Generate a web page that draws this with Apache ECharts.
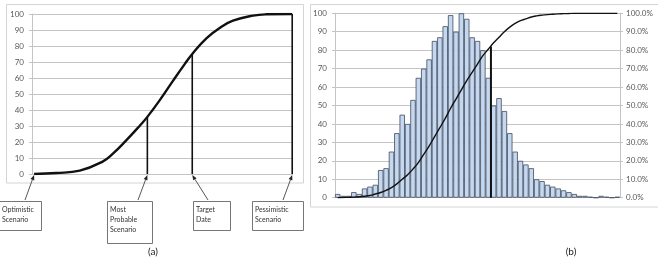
<!DOCTYPE html>
<html><head><meta charset="utf-8">
<script src="https://cdn.jsdelivr.net/npm/echarts@6/dist/echarts.min.js"></script>
<style>html,body{margin:0;padding:0;background:#fff}#c{width:658px;height:260px}</style>
</head><body><div id="c"></div>
<script>
// ---- Chart (a): cumulative S-curve ----
const aCurveX = [0.8, 9.3, 18.3, 27.2, 31, 36.1, 41.3, 44.2, 48.9, 54, 58.5, 61.4, 66.8, 71.9, 77, 84.7, 89.8, 99.7];
const aCurveY = [0, 0.6, 2.1, 7.9, 12.7, 21, 30.2, 35.7, 46, 58.2, 68.7, 75, 84.8, 91.3, 95.8, 99, 99.8, 100];
const aScenarioNames = [["Optimistic","Scenario"],["Most","Probable","Scenario"],["Target","Date"],["Pessimistic","Scenario"]];
const aScenarioX = [0.8, 44.2, 61.4, 99.7];
const aScenarioTop = [0, 35.7, 75, 100];

// ---- Chart (b): histogram + cumulative % ----
const bCategories = Array.from({length:53}, (_, i) => String(i + 1));
const bCounts = [2,1,1,3,2,5,6,7,15,16,25,35,45,40,53,65,70,75,85,87,93,99,90,100,97,87,85,80,65,
                 50,54,47,35,25,20,18,16,10,9,7,6,5,4,3,2,1,1,0.5,0,1,0.5,0,0.5];
const bCumPct = [0,0.1,0.2,0.3,0.5,0.8,1.2,2,2.8,4,5.5,7.5,10,12.5,15.5,19,23.5,28,33,38,43,48.5,53.5,58.5,63.5,68,72.5,77,80.5,
                 84,87,90,92.5,94.5,96,97,98,98.6,99,99.3,99.5,99.7,99.8,99.9,100,100,100,100,100,100,100,100,100];
const bMarkerIndex = 29;   // boundary after the 29th bin
const bMarkerTop = 82;

const FONT = 'Lato';
const gridCol = '#c4c4c4';
const labelCol = '#595959';

const chart = echarts.init(document.getElementById('c'), null, {renderer:'canvas'});

const aLines = aScenarioX.slice(1).map((x, i) => ({
  type:'line', xAxisIndex:0, yAxisIndex:0, symbol:'none', silent:true,
  data:[[x,0],[x,aScenarioTop[i+1]]], lineStyle:{color:'#111', width:1.6}
}));

chart.setOption({
  animation:false,
  textStyle:{fontFamily:FONT},
  grid:[
    {left:32, top:14, width:261, height:160},
    {left:335, top:13.3, width:285, height:184.4}
  ],
  xAxis:[
    {type:'value', gridIndex:0, min:0, max:100, show:false},
    {type:'category', gridIndex:1, data:bCategories, show:false, boundaryGap:true},
    {type:'value', gridIndex:1, min:0, max:53, show:false}
  ],
  yAxis:[
    {type:'value', gridIndex:0, min:0, max:100, interval:10,
     axisLine:{show:true, lineStyle:{color:gridCol}}, axisTick:{show:true, length:3, lineStyle:{color:gridCol}},
     splitLine:{lineStyle:{color:gridCol, width:1.2}},
     axisLabel:{color:labelCol, fontSize:8, margin:8, fontFamily:FONT}},
    {type:'value', gridIndex:1, min:0, max:100, interval:10,
     axisLine:{show:true, lineStyle:{color:gridCol}}, axisTick:{show:true, length:3, lineStyle:{color:gridCol}},
     splitLine:{lineStyle:{color:gridCol, width:1}},
     axisLabel:{color:labelCol, fontSize:8, margin:8, fontFamily:FONT}},
    {type:'value', gridIndex:1, min:0, max:100, interval:10, position:'right',
     axisLine:{show:true, lineStyle:{color:gridCol}}, axisTick:{show:true, length:3, lineStyle:{color:gridCol}},
     splitLine:{show:false},
     axisLabel:{color:labelCol, fontSize:8, margin:6, fontFamily:FONT, formatter:v => v.toFixed(1) + '%'}}
  ],
  series:[
    {type:'line', xAxisIndex:0, yAxisIndex:0, symbol:'none', smooth:0.45, silent:true,
     data:aCurveX.map((x,i)=>[x,aCurveY[i]]), lineStyle:{color:'#111', width:2.4}},
    ...aLines,
    {type:'bar', xAxisIndex:1, yAxisIndex:1, data:bCounts, barCategoryGap:'0%', silent:true,
     itemStyle:{color:'#c6d8ef', borderColor:'#3f4b5e', borderWidth:0.8}},
    {type:'line', xAxisIndex:2, yAxisIndex:2, symbol:'none', smooth:0.4, silent:true,
     data:bCumPct.map((v,i)=>[i+0.5, v]), lineStyle:{color:'#111', width:1.4}},
    {type:'line', xAxisIndex:2, yAxisIndex:1, symbol:'none', silent:true,
     data:[[bMarkerIndex,0],[bMarkerIndex,bMarkerTop]], lineStyle:{color:'#111', width:2}}
  ]
});

// ---- annotations (boxes, arrows, panel frames, captions) ----
const g = [];
g.push({type:'rect', shape:{x:6.5, y:4.5, width:297, height:178.5}, style:{fill:null, stroke:'#d4d4d4', lineWidth:1}, z:0});
g.push({type:'rect', shape:{x:310.5, y:4.5, width:360, height:202.5}, style:{fill:null, stroke:'#d4d4d4', lineWidth:1}, z:0});

const tails = [[25,200],[138,200],[208,200],[283,200]];
const boxes = [[-1,201,42,29],[107,201,45,42],[193,201,37,29],[252,201,51,29]];
aScenarioX.forEach((x, i) => {
  const tip = chart.convertToPixel({gridIndex:0}, [x, 0]);
  tip[1] += 1;
  const t = tails[i];
  const dx = tip[0]-t[0], dy = tip[1]-t[1], L = Math.hypot(dx,dy);
  const ux = dx/L, uy = dy/L, nx = -uy, ny = ux;
  const hl = 5, hw = 2;
  g.push({type:'line', shape:{x1:t[0], y1:t[1], x2:tip[0]-ux*hl, y2:tip[1]-uy*hl}, style:{stroke:'#444', lineWidth:0.9}, z:10});
  g.push({type:'polygon', shape:{points:[[tip[0],tip[1]],[tip[0]-ux*hl+nx*hw, tip[1]-uy*hl+ny*hw],[tip[0]-ux*hl-nx*hw, tip[1]-uy*hl-ny*hw]]}, style:{fill:'#222'}, z:10});
  const b = boxes[i];
  g.push({type:'rect', shape:{x:b[0]+0.5, y:b[1]+0.5, width:b[2], height:b[3]}, style:{fill:'#fff', stroke:'#666', lineWidth:0.9}, z:10});
  g.push({type:'text', x:b[0]+3, y:b[1]+4, style:{text:aScenarioNames[i].join('\n'), fill:'#333', font:'7px ' + FONT, lineHeight:10}, z:11});
});
g.push({type:'text', x:153, y:252, style:{text:'(a)', fill:'#222', font:'10px ' + FONT, align:'center', verticalAlign:'middle'}});
g.push({type:'text', x:571, y:252, style:{text:'(b)', fill:'#222', font:'10px ' + FONT, align:'center', verticalAlign:'middle'}});
chart.setOption({graphic:g});
</script>
</body></html>
